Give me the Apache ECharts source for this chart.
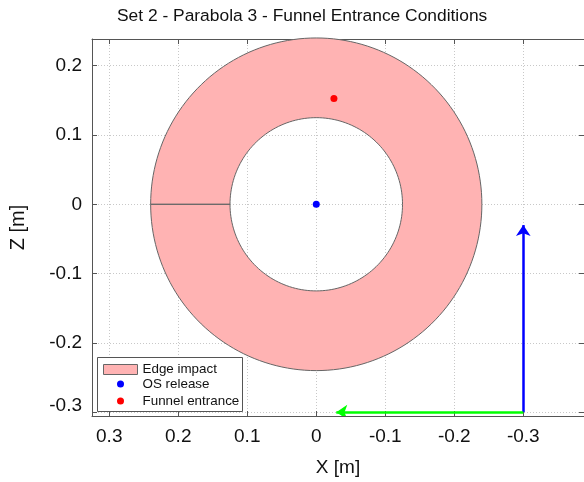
<!DOCTYPE html>
<html><head><meta charset="utf-8">
<script src="https://cdn.jsdelivr.net/npm/echarts@6/dist/echarts.min.js"></script>
<style>html,body{margin:0;padding:0;background:#fff}#c{width:584px;height:482px}</style>
</head><body><div id="c"></div>
<script>
// ---- data ----
const titleText = 'Set 2 - Parabola 3 - Funnel Entrance Conditions';
const xName = 'X [m]';
const yName = 'Z [m]';
const xRange = [-0.388, 0.325];
const yRange = [-0.3055, 0.2385];
const xTicks = [0.3, 0.2, 0.1, 0, -0.1, -0.2, -0.3];
const yTicks = [0.2, 0.1, 0, -0.1, -0.2, -0.3];
const annulusCenter = [0, 0];
const annulusInner = 0.125;
const annulusOuter = 0.24;
const osRelease = [[0, 0]];
const funnelEntrance = [[-0.0256, 0.1525]];
const arrowOrigin = [-0.3, -0.3];
const arrowBlueEnd = [-0.3, -0.03];
const arrowGreenEnd = [-0.029, -0.3];
const seriesNames = ['Edge impact', 'OS release', 'Funnel entrance'];

const FONT = "'Liberation Sans', Arial, sans-serif";
const chart = echarts.init(document.getElementById('c'), null, {renderer: 'canvas'});

function fmt(v) {
  const r = Math.round(v * 10) / 10;
  return (r === 0) ? '0' : String(r);
}

const gridLine = {show: true, lineStyle: {color: '#c8c8c8', type: [1, 2], width: 1}};
const axisLineStyle = {show: true, lineStyle: {color: '#555', width: 1}};

function xAxisCfg(pos, showLabels) {
  return {
    type: 'value', position: pos, inverse: true,
    min: xRange[0], max: xRange[1],
    axisLine: Object.assign({onZero: false}, axisLineStyle),
    axisTick: {show: true, inside: true, length: 5, customValues: xTicks, lineStyle: {color: '#555'}},
    axisLabel: {show: showLabels, customValues: xTicks, margin: 11, fontSize: 19, color: '#111', fontFamily: FONT, formatter: fmt},
    splitLine: showLabels ? gridLine : {show: false},
    name: showLabels ? xName : '', nameLocation: 'middle', nameGap: 42,
    nameTextStyle: {fontSize: 19, color: '#111', fontFamily: FONT}
  };
}
function yAxisCfg(pos, showLabels) {
  return {
    type: 'value', position: pos,
    min: yRange[0], max: yRange[1],
    axisLine: Object.assign({onZero: false}, axisLineStyle),
    axisTick: {show: true, inside: true, length: 5, customValues: yTicks, lineStyle: {color: '#555'}},
    axisLabel: {
      show: showLabels, customValues: yTicks, margin: 10, fontSize: 19, color: '#111', fontFamily: FONT,
      formatter: function (v) { const s = fmt(v); return Math.abs(v + 0.3) < 1e-6 ? '{low|' + s + '}' : s; },
      rich: {low: {fontSize: 19, color: '#111', fontFamily: FONT, padding: [0, 0, 12, 0]}}
    },
    splitLine: showLabels ? gridLine : {show: false},
    name: showLabels ? yName : '', nameLocation: 'middle', nameGap: 64, nameRotate: 90,
    nameTextStyle: {fontSize: 20, color: '#111', fontFamily: FONT}
  };
}

function renderAnnulus(params, api) {
  const N = 180;
  const pts = [];
  for (let i = 0; i <= N; i++) {
    const a = 2 * Math.PI * i / N;
    pts.push(api.coord([annulusCenter[0] + annulusOuter * Math.cos(a), annulusCenter[1] + annulusOuter * Math.sin(a)]));
  }
  for (let i = N; i >= 0; i--) {
    const a = 2 * Math.PI * i / N;
    pts.push(api.coord([annulusCenter[0] + annulusInner * Math.cos(a), annulusCenter[1] + annulusInner * Math.sin(a)]));
  }
  return {
    type: 'polygon',
    shape: {points: pts},
    style: {fill: '#FFB3B3', stroke: '#666', lineWidth: 1}
  };
}

const option = {
  backgroundColor: '#fff',
  animation: false,
  title: {
    text: titleText, left: 117, top: 8, padding: 0,
    textStyle: {fontSize: 17.4, fontWeight: 'normal', color: '#111', fontFamily: FONT}
  },
  grid: {left: 92, right: -1, top: 39, bottom: 66, containLabel: false},
  xAxis: [xAxisCfg('bottom', true), xAxisCfg('top', false)],
  yAxis: [yAxisCfg('left', true), yAxisCfg('right', false)],
  graphic: [{
    type: 'rect', left: 97, top: 357, z: 50,
    shape: {width: 145, height: 54},
    style: {fill: '#fff', stroke: '#555', lineWidth: 1}
  }],
  legend: [{
    data: [seriesNames[0]], orient: 'vertical', left: 103, top: 363, padding: 0, z: 60,
    itemWidth: 34, itemHeight: 10, icon: 'rect',
    itemStyle: {borderColor: '#666', borderWidth: 1},
    textStyle: {fontSize: 13.4, color: '#111', fontFamily: FONT}
  }, {
    data: [seriesNames[1], seriesNames[2]], orient: 'vertical', left: 117, top: 376, padding: 0, z: 60,
    itemWidth: 34, itemHeight: 7, icon: 'circle', itemGap: 1,
    itemStyle: {opacity: 1},
    textStyle: {fontSize: 13.4, lineHeight: 16, color: '#111', fontFamily: FONT}
  }],
  series: [{
    name: seriesNames[0], type: 'custom', xAxisIndex: 0, yAxisIndex: 0,
    renderItem: renderAnnulus, data: [annulusCenter], encode: {x: 0, y: 1},
    itemStyle: {color: '#FFB3B3', borderColor: '#666'}, silent: true, z: 1
  }, {
    name: seriesNames[1], type: 'scatter', data: osRelease, symbol: 'circle', symbolSize: 7,
    itemStyle: {color: '#0000FF', opacity: 1}, z: 5
  }, {
    name: seriesNames[2], type: 'scatter', data: funnelEntrance, symbol: 'circle', symbolSize: 7,
    itemStyle: {color: '#FF0000', opacity: 1}, z: 5
  }, {
    type: 'lines', coordinateSystem: 'cartesian2d', z: 4,
    symbol: ['none', 'arrow'], symbolSize: 11,
    lineStyle: {opacity: 1},
    data: [
      {coords: [arrowOrigin, arrowBlueEnd], lineStyle: {color: '#0000FF', width: 2.5, opacity: 1}},
      {coords: [arrowOrigin, arrowGreenEnd], lineStyle: {color: '#00FF00', width: 2.5, opacity: 1}}
    ]
  }]
};
chart.setOption(option);
</script>
</body></html>
